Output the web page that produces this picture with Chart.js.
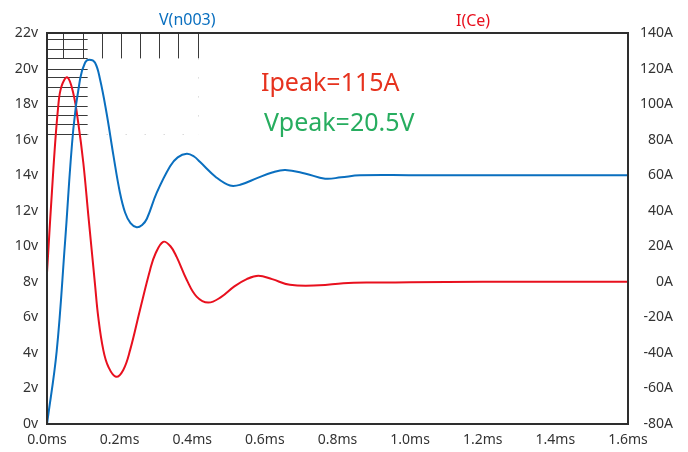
<!DOCTYPE html>
<html>
<head>
<meta charset="utf-8">
<script src="https://cdn.jsdelivr.net/npm/chart.js@4/dist/chart.umd.min.js"></script>
<style>
  html, body { margin: 0; padding: 0; background: #ffffff; }
  #wrap { width: 688px; height: 452px; position: relative; }
</style>
</head>
<body>
<div id="wrap"><canvas id="c" width="688" height="452"></canvas></div>
<script>
// Transient response: node voltage V(n003) and capacitor current I(Ce)
const vTime = [0, 0.0267, 0.0496, 0.0725, 0.091, 0.105, 0.1165, 0.132, 0.146, 0.164, 0.183, 0.201, 0.215, 0.23, 0.247, 0.262, 0.275, 0.302, 0.339, 0.36, 0.385, 0.405, 0.421, 0.467, 0.504, 0.532, 0.58, 0.62, 0.656, 0.71, 0.766, 0.81, 0.862, 1.0, 1.2, 1.4, 1.6];
const vVals = [0, 4.1, 10.2, 16.6, 19.4, 20.34, 20.5, 20.34, 19.4, 17.5, 15.1, 13.0, 11.9, 11.3, 11.07, 11.2, 11.55, 13.0, 14.5, 15.0, 15.2, 15.05, 14.75, 13.86, 13.42, 13.46, 13.85, 14.15, 14.29, 14.1, 13.8, 13.88, 13.99, 14.0, 14.0, 14.0, 14.0];

const iTime = [0, 0.0174, 0.031, 0.04, 0.056, 0.0725, 0.086, 0.1, 0.114, 0.123, 0.132, 0.141, 0.155, 0.169, 0.19, 0.21, 0.229, 0.256, 0.284, 0.298, 0.32, 0.34, 0.357, 0.385, 0.412, 0.444, 0.48, 0.516, 0.55, 0.582, 0.62, 0.669, 0.75, 0.816, 0.9, 1.0, 1.2, 1.4, 1.6];
const iVals = [5, 63, 99, 110, 115, 106, 89.5, 67, 37, 18, -1, -19.6, -38.3, -47.8, -53.4, -49.6, -38.3, -15.8, 6.8, 15.5, 22.5, 20, 14, 1, -8.3, -11.7, -8.5, -2.6, 1.5, 3.4, 1.5, -1.7, -2.0, -0.8, -0.4, -0.3, 0, 0, 0];

// Axis ranges and tick spacing
const xRange = [0, 1.6], xStep = 0.2;
const vRange = [0, 22], vStep = 2;
const iRange = [-80, 140], iStep = 20;

// Trace names and peak notes
const traceNames = ['V(n003)', 'I(Ce)'];
const peakNotes = ['Ipeak=115A', 'Vpeak=20.5V'];

// Cursor-box remnants near the origin (time in ms, voltage in v)
const boxColT = [0.045, 0.098, 0.151, 0.203, 0.255, 0.308, 0.362, 0.415];
const boxColV = [22, 20.57];
const boxRowV = [21.66, 21.1, 20.57, 20.0, 19.5, 18.97, 18.43, 17.9, 17.37, 16.86, 16.3];
const boxRowT = [0, 0.112];

const BLUE = '#0a6fbf';
const RED = '#e8101e';
const GREEN = '#27ad5f';
const INK = '#333333';
const FONT = '"Noto Sans", "Open Sans", sans-serif';

const toXY = (ts, vs) => ts.map((t, i) => ({ x: t, y: vs[i] }));

const framePlugin = {
  id: 'frame',
  beforeDatasetsDraw(chart) {
    const { ctx, scales } = chart;
    const x = scales.x, y = scales.yV;
    ctx.save();
    ctx.strokeStyle = '#3a3a3a';
    ctx.lineWidth = 1;
    ctx.beginPath();
    boxColT.forEach(t => {
      const px = Math.round(x.getPixelForValue(t)) + 0.5;
      ctx.moveTo(px, y.getPixelForValue(boxColV[0]));
      ctx.lineTo(px, y.getPixelForValue(boxColV[1]));
    });
    boxRowV.forEach(v => {
      const py = Math.round(y.getPixelForValue(v)) + 0.5;
      ctx.moveTo(x.getPixelForValue(boxRowT[0]), py);
      ctx.lineTo(x.getPixelForValue(boxRowT[1]), py);
    });
    ctx.stroke();
    // faint dotted edge of the box
    ctx.strokeStyle = '#c8c8c8';
    ctx.setLineDash([1, 18]);
    ctx.beginPath();
    const yb = Math.round(y.getPixelForValue(boxRowV[boxRowV.length - 1])) + 0.5;
    ctx.moveTo(x.getPixelForValue(boxRowT[1]), yb);
    ctx.lineTo(x.getPixelForValue(boxColT[boxColT.length - 1]), yb);
    const xr = Math.round(x.getPixelForValue(boxColT[boxColT.length - 1])) + 0.5;
    ctx.moveTo(xr, y.getPixelForValue(boxColV[1]));
    ctx.lineTo(xr, yb);
    ctx.stroke();
    ctx.restore();
  },
  afterDraw(chart) {
    const { ctx, chartArea: a } = chart;
    ctx.save();
    ctx.strokeStyle = '#2e2e2e';
    ctx.lineWidth = 2;
    ctx.strokeRect(a.left, a.top, a.right - a.left, a.bottom - a.top);

    ctx.textBaseline = 'alphabetic';
    ctx.textAlign = 'left';
    ctx.font = '16px ' + FONT;
    ctx.fillStyle = BLUE;
    ctx.fillText(traceNames[0], 159, 25);
    ctx.fillStyle = RED;
    ctx.fillText(traceNames[1], 456, 26);

    ctx.font = '25px ' + FONT;
    ctx.fillStyle = '#e6321e';
    ctx.fillText(peakNotes[0], 261, 91);
    ctx.fillStyle = GREEN;
    ctx.fillText(peakNotes[1], 264, 131);
    ctx.restore();
  }
};

new Chart(document.getElementById('c'), {
  type: 'line',
  data: {
    datasets: [
      {
        label: traceNames[0],
        data: toXY(vTime, vVals),
        yAxisID: 'yV',
        borderColor: BLUE,
        borderWidth: 2,
        pointRadius: 0,
        tension: 0.4,
        fill: false
      },
      {
        label: traceNames[1],
        data: toXY(iTime, iVals),
        yAxisID: 'yI',
        borderColor: RED,
        borderWidth: 2,
        pointRadius: 0,
        tension: 0.4,
        fill: false
      }
    ]
  },
  options: {
    responsive: false,
    animation: false,
    clip: false,
    layout: { padding: { top: 33, left: 0, right: 15, bottom: 0 } },
    plugins: { legend: { display: false }, tooltip: { enabled: false } },
    scales: {
      x: {
        type: 'linear',
        min: xRange[0], max: xRange[1],
        grid: { display: false, drawTicks: false },
        border: { display: false },
        afterFit(s) { s.height = 28; },
        ticks: {
          stepSize: xStep,
          autoSkip: false,
          maxRotation: 0,
          padding: 8,
          color: INK,
          font: { family: FONT, size: 14 },
          callback: v => v.toFixed(1) + 'ms'
        }
      },
      yV: {
        type: 'linear',
        position: 'left',
        min: vRange[0], max: vRange[1],
        grid: { display: false, drawTicks: false },
        border: { display: false },
        afterFit(s) { s.width = 47; },
        ticks: {
          stepSize: vStep,
          padding: 9,
          color: INK,
          font: { family: FONT, size: 14 },
          callback: v => v + 'v'
        }
      },
      yI: {
        type: 'linear',
        position: 'right',
        min: iRange[0], max: iRange[1],
        grid: { display: false, drawTicks: false },
        border: { display: false },
        afterFit(s) { s.width = 45; },
        ticks: {
          stepSize: iStep,
          padding: 8,
          crossAlign: 'far',
          color: INK,
          font: { family: FONT, size: 14 },
          callback: v => v + 'A'
        }
      }
    }
  },
  plugins: [framePlugin]
});
</script>
</body>
</html>
